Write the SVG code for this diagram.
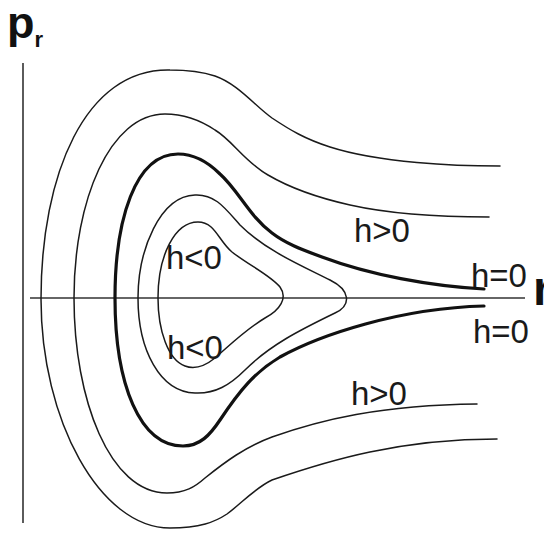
<svg xmlns="http://www.w3.org/2000/svg" width="544" height="533" viewBox="0 0 544 533">
<style>
.thin{fill:none;stroke:#1a1a1a;stroke-width:1.5;stroke-linecap:round;stroke-linejoin:round}
.thick{fill:none;stroke:#111;stroke-width:3.2;stroke-linecap:round;stroke-linejoin:round}
.axis{fill:none;stroke:#333;stroke-width:1.6}
.lbl{font-family:"Liberation Sans",Arial,sans-serif;font-size:33px;fill:#1a1a1a}
.ax{font-family:"Liberation Sans",Arial,sans-serif;font-weight:bold;fill:#111}
</style>
<rect width="544" height="533" fill="#ffffff"/>
<g id="axes">
<line class="axis" x1="23" y1="63" x2="23" y2="523"/>
<line class="axis" x1="30" y1="298" x2="525" y2="298"/>
<text class="ax" x="7" y="38" font-size="45">p<tspan font-size="22" dy="9">r</tspan></text>
<text class="ax" x="533" y="305" font-size="48">r</text>
</g>
<g id="connectors">
<path id="curveA" class="thin" d="M500,166 C455,166 380,163 330,147 C305,139 290,130 272,118 C255,106 238,84 215,76 C200,71 185,70 170,70 C85,68 41,175 41,299 C41,420 100,528 170,528 C200,528 215,522 227,514 C242,503 255,488 272,480 C330,460 400,439 497,439"/>
<path id="curveB" class="thin" d="M489,217 C440,217 390,214 350,205 C310,196 285,185 268,175 C245,162 232,140 215,130 C200,120 185,114 165,114 C110,114 74,200 74,298 C74,400 110,493 167,493 C185,493 195,487 205,478 C225,462 245,447 272,437 C320,420 380,405 477,404"/>
<path id="separatrix" class="thick" d="M484,289 C430,286 370,275 322,257 C300,249 285,243 272,233 C250,217 238,190 220,174 C208,162 195,154 178,154 C135,154 115,220 115,298 C115,385 140,446 183,446 C200,446 210,435 220,420 C240,390 255,372 280,357 C320,335 400,308 484,306"/>
<path id="orbit1" class="thin" d="M138,298 C138,250 160,196 195,195 C215,194 225,208 240,225 C265,250 300,265 330,280 C350,290 352,305 335,313 C300,330 270,345 245,370 C230,385 215,394 195,393 C160,392 138,350 138,298 Z"/>
<path id="orbit2" class="thin" d="M158,298 C158,255 175,222 198,222 C215,222 218,240 232,252 C250,266 270,275 280,287 C288,298 280,310 265,318 C245,330 230,345 215,358 C205,366 195,370 185,366 C168,360 158,330 158,298 Z"/>
</g>
<g id="labels">
<text class="lbl" x="166" y="269">h&lt;0</text>
<text class="lbl" x="167" y="359">h&lt;0</text>
<text class="lbl" x="354" y="242">h&gt;0</text>
<text class="lbl" x="351" y="405">h&gt;0</text>
<text class="lbl" x="471" y="287">h=0</text>
<text class="lbl" x="473" y="343">h=0</text>
</g>
</svg>
